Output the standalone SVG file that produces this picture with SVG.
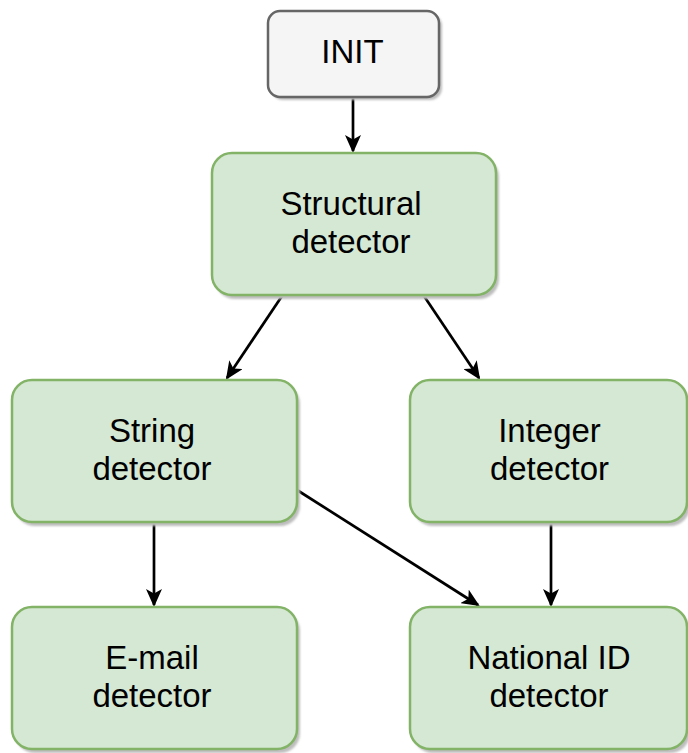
<svg xmlns="http://www.w3.org/2000/svg" width="688" height="753" viewBox="0 0 688 753">
  <style>
    .shadow { fill: #bdbdbd; }
    .box { fill: #d5e8d4; stroke: #82b366; stroke-width: 2.5; }
    .init { fill: #f5f5f5; stroke: #666666; stroke-width: 2.5; }
    .label { font-family: "Liberation Sans", Arial, Helvetica, sans-serif; font-size: 33px; fill: #000000; text-anchor: middle; }
    .edge { stroke: #000000; stroke-width: 2.7; fill: none; marker-end: url(#arrow); }
  </style>
  <defs>
    <filter id="soft" x="-10%" y="-10%" width="120%" height="120%">
      <feGaussianBlur stdDeviation="0.8"/>
    </filter>
    <marker id="arrow" viewBox="0 0 18 16" refX="16" refY="8" markerWidth="18" markerHeight="16" markerUnits="userSpaceOnUse" orient="auto">
      <path d="M0,0 L18,8 L0,16 L4.5,8 Z" fill="#000000"/>
    </marker>
  </defs>
  <rect width="688" height="753" fill="#ffffff"/>

  <g id="connectors">
    <line class="edge" x1="353" y1="97" x2="353" y2="151"/>
    <line class="edge" x1="282" y1="296" x2="227" y2="378"/>
    <line class="edge" x1="424" y1="296" x2="479" y2="378"/>
    <line class="edge" x1="154" y1="522" x2="154" y2="605"/>
    <line class="edge" x1="297" y1="490" x2="478" y2="605"/>
    <line class="edge" x1="551" y1="522" x2="551" y2="605"/>
  </g>

  <g id="init">
    <rect class="shadow" filter="url(#soft)" x="271" y="14" width="171" height="86" rx="12"/>
    <rect class="init" x="268" y="11" width="171" height="86" rx="12"/>
    <text class="label" x="352.5" y="63">INIT</text>
  </g>

  <g id="structural-detector">
    <rect class="shadow" filter="url(#soft)" x="215" y="157" width="284" height="142" rx="20"/>
    <rect class="box" x="212" y="153" width="284" height="142" rx="20"/>
    <text class="label" x="351" y="215">Structural</text>
    <text class="label" x="351" y="253">detector</text>
  </g>

  <g id="string-detector">
    <rect class="shadow" filter="url(#soft)" x="15" y="384" width="285" height="142" rx="20"/>
    <rect class="box" x="12" y="380" width="285" height="142" rx="20"/>
    <text class="label" x="152" y="442">String</text>
    <text class="label" x="152" y="480">detector</text>
  </g>

  <g id="integer-detector">
    <rect class="shadow" filter="url(#soft)" x="413" y="384" width="277" height="142" rx="20"/>
    <rect class="box" x="410" y="380" width="277" height="142" rx="20"/>
    <text class="label" x="549.5" y="442">Integer</text>
    <text class="label" x="549.5" y="480">detector</text>
  </g>

  <g id="email-detector">
    <rect class="shadow" filter="url(#soft)" x="15" y="611" width="285" height="142" rx="20"/>
    <rect class="box" x="12" y="607" width="285" height="142" rx="20"/>
    <text class="label" x="152" y="669">E-mail</text>
    <text class="label" x="152" y="707">detector</text>
  </g>

  <g id="national-id-detector">
    <rect class="shadow" filter="url(#soft)" x="413" y="611" width="277" height="142" rx="20"/>
    <rect class="box" x="410" y="607" width="277" height="142" rx="20"/>
    <text class="label" x="549" y="669">National ID</text>
    <text class="label" x="549" y="707">detector</text>
  </g>
</svg>
